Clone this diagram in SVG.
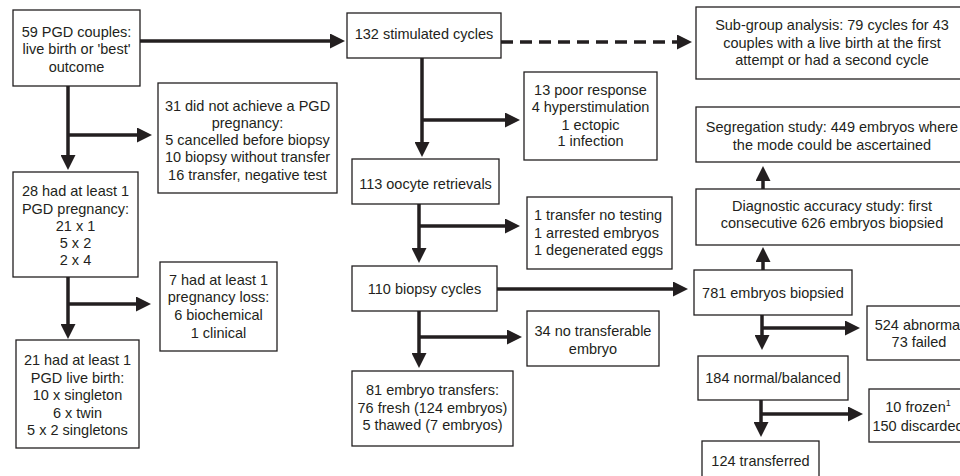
<svg xmlns="http://www.w3.org/2000/svg" width="960" height="476" viewBox="0 0 960 476">
<defs>
<style>
.box{fill:#fff;stroke:#231f20;stroke-width:1.3}
.t{font-family:"Liberation Sans",Arial,sans-serif;font-size:14.5px;fill:#231f20;text-anchor:middle}
.tl{font-family:"Liberation Sans",Arial,sans-serif;font-size:14.5px;fill:#231f20;text-anchor:start}
.c{fill:none;stroke:#231f20;stroke-width:3.5}
.d{stroke-dasharray:12 7}
.a{marker-end:url(#ah)}
</style>
<marker id="ah" markerUnits="userSpaceOnUse" markerWidth="15" markerHeight="15" refX="0" refY="7.5" orient="auto">
<path d="M0,0 L15,7.5 L0,15 z" fill="#231f20"/>
</marker>
</defs>
<rect width="960" height="476" fill="#fff"/>
<g id="connectors">
<path class="c a" d="M140,41 H330"/>
<path class="c d a" d="M501,42 H677"/>
<path class="c a" d="M68,86 V155"/>
<path class="c a" d="M68,135 H137"/>
<path class="c a" d="M68,277 V324"/>
<path class="c a" d="M68,304 H136"/>
<path class="c a" d="M422,58 V142"/>
<path class="c a" d="M422,120 H505"/>
<path class="c a" d="M419,204 V248"/>
<path class="c a" d="M419,226 H505"/>
<path class="c a" d="M497,289 H673"/>
<path class="c a" d="M419,311 V353"/>
<path class="c a" d="M419,337 H507"/>
<path class="c a" d="M763,270 V262"/>
<path class="c a" d="M763,189 V181"/>
<path class="c a" d="M762,315 V335"/>
<path class="c a" d="M762,328 H845"/>
<path class="c a" d="M761,400 V422"/>
<path class="c a" d="M761,414 H848"/>
</g>
<g id="n_couples"><rect class="box" x="13" y="10" width="127" height="76"/>
<text class="t" x="76.5" y="37">59 PGD couples:</text><text class="t" x="76.5" y="54">live birth or 'best'</text><text class="t" x="76.5" y="72">outcome</text></g>
<g id="n_stim"><rect class="box" x="347" y="13" width="154" height="45"/>
<text class="t" x="424" y="39">132 stimulated cycles</text></g>
<g id="n_subgroup"><rect class="box" x="696" y="7" width="272" height="72"/>
<text class="t" x="832" y="30">Sub-group analysis: 79 cycles for 43</text><text class="t" x="832" y="47.5">couples with a live birth at the first</text><text class="t" x="832" y="65">attempt or had a second cycle</text></g>
<g id="n_nopreg"><rect class="box" x="158" y="83" width="179" height="110"/>
<text class="t" x="247.5" y="111">31 did not achieve a PGD</text><text class="t" x="247.5" y="128">pregnancy:</text><text class="t" x="247.5" y="145">5 cancelled before biopsy</text><text class="t" x="247.5" y="162">10 biopsy without transfer</text><text class="t" x="247.5" y="180">16 transfer, negative test</text></g>
<g id="n_preg"><rect class="box" x="13" y="172" width="125" height="105"/>
<text class="t" x="75.5" y="196">28 had at least 1</text><text class="t" x="75.5" y="214">PGD pregnancy:</text><text class="t" x="75.5" y="231">21 x 1</text><text class="t" x="75.5" y="248">5 x 2</text><text class="t" x="75.5" y="265">2 x 4</text></g>
<g id="n_loss"><rect class="box" x="160" y="262" width="117" height="89"/>
<text class="t" x="218.5" y="285">7 had at least 1</text><text class="t" x="218.5" y="302">pregnancy loss:</text><text class="t" x="218.5" y="319.5">6 biochemical</text><text class="t" x="218.5" y="337.5">1 clinical</text></g>
<g id="n_birth"><rect class="box" x="16" y="340" width="123" height="108"/>
<text class="t" x="77.5" y="365">21 had at least 1</text><text class="t" x="77.5" y="383">PGD live birth:</text><text class="t" x="77.5" y="400">10 x singleton</text><text class="t" x="77.5" y="418">6 x twin</text><text class="t" x="77.5" y="435">5 x 2 singletons</text></g>
<g id="n_poor"><rect class="box" x="524" y="72" width="133" height="88"/>
<text class="t" x="590.5" y="94.5">13 poor response</text><text class="t" x="590.5" y="112">4 hyperstimulation</text><text class="t" x="590.5" y="129.5">1 ectopic</text><text class="t" x="590.5" y="146">1 infection</text></g>
<g id="n_oocyte"><rect class="box" x="352" y="159" width="147" height="45"/>
<text class="t" x="425.5" y="188.5">113 oocyte retrievals</text></g>
<g id="n_notest"><rect class="box" x="527" y="197" width="145" height="72"/>
<text class="tl" x="534" y="219.5">1 transfer no testing</text><text class="tl" x="534" y="237.5">1 arrested embryos</text><text class="tl" x="534" y="254.5">1 degenerated eggs</text></g>
<g id="n_biopsy"><rect class="box" x="352" y="266" width="145" height="45"/>
<text class="t" x="424.5" y="294">110 biopsy cycles</text></g>
<g id="n_notransf"><rect class="box" x="527" y="311" width="132" height="55"/>
<text class="t" x="593" y="336">34 no transferable</text><text class="t" x="593" y="354">embryo</text></g>
<g id="n_transfers"><rect class="box" x="352" y="371" width="161" height="75"/>
<text class="t" x="432.5" y="395">81 embryo transfers:</text><text class="t" x="432.5" y="412.5">76 fresh (124 embryos)</text><text class="t" x="432.5" y="430">5 thawed (7 embryos)</text></g>
<g id="n_segregation"><rect class="box" x="696" y="107" width="272" height="55"/>
<text class="t" x="832" y="132">Segregation study: 449 embryos where</text><text class="t" x="832" y="149.5">the mode could be ascertained</text></g>
<g id="n_diag"><rect class="box" x="696" y="189" width="272" height="56"/>
<text class="t" x="832" y="210.5">Diagnostic accuracy study: first</text><text class="t" x="832" y="228">consecutive 626 embryos biopsied</text></g>
<g id="n_781"><rect class="box" x="694" y="270" width="158" height="45"/>
<text class="t" x="773" y="297.5">781 embryos biopsied</text></g>
<g id="n_abnormal"><rect class="box" x="867" y="306" width="104" height="54"/>
<text class="t" x="919" y="329.5">524 abnormal</text><text class="t" x="919" y="347">73 failed</text></g>
<g id="n_normal"><rect class="box" x="698" y="356" width="150" height="44"/>
<text class="t" x="773" y="383">184 normal/balanced</text></g>
<g id="n_frozen"><rect class="box" x="869" y="389" width="98" height="53"/>
<text class="t" x="918" y="412">10 frozen<tspan dy="-6" font-size="9">1</tspan></text><text class="t" x="918" y="430.5">150 discarded</text></g>
<g id="n_transferred"><rect class="box" x="702" y="441" width="117" height="42"/>
<text class="t" x="760.5" y="466">124 transferred</text></g>
</svg>
